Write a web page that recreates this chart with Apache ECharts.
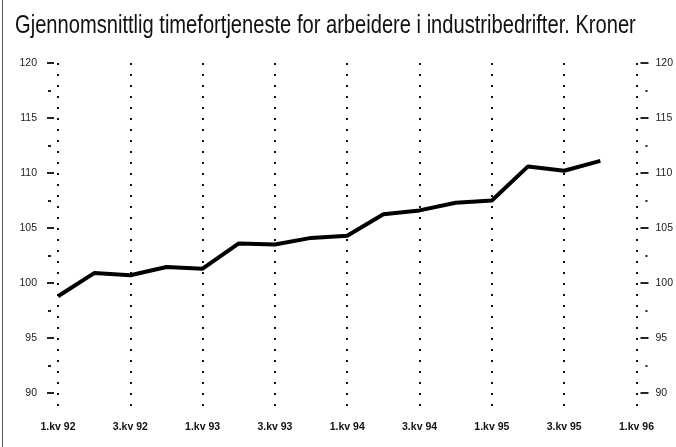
<!DOCTYPE html>
<html>
<head>
<meta charset="utf-8">
<script src="https://cdn.jsdelivr.net/npm/echarts@6/dist/echarts.min.js"></script>
<style>
html,body{margin:0;padding:0;background:#fff;}
#chart{width:676px;height:447px;}
</style>
</head>
<body>
<div id="chart"></div>
<script>
const titleText = 'Gjennomsnittlig timefortjeneste for arbeidere i industribedrifter. Kroner';
const categories = ['1.kv 92','2.kv 92','3.kv 92','4.kv 92','1.kv 93','2.kv 93','3.kv 93','4.kv 93','1.kv 94','2.kv 94','3.kv 94','4.kv 94','1.kv 95','2.kv 95','3.kv 95','4.kv 95','1.kv 96'];
const values = [98.8, 100.9, 100.7, 101.45, 101.3, 103.6, 103.5, 104.1, 104.3, 106.25, 106.6, 107.3, 107.5, 110.6, 110.2, 111.1];
const yMajorTicks = [90, 95, 100, 105, 110, 115, 120];
const yMinorTicks = [92.5, 97.5, 102.5, 107.5, 112.5, 117.5];
const yMin = 88, yMax = 120;

const sans = "'Liberation Sans', Arial, sans-serif";
const chart = echarts.init(document.getElementById('chart'));

function yAx(pos, offset, tickLen, ticks, showLabel, margin) {
  return {
    type: 'value', position: pos, offset: offset, min: yMin, max: yMax,
    axisLine: {show: false},
    splitLine: {show: false},
    axisTick: {show: true, length: tickLen, customValues: ticks, lineStyle: {color: '#222', width: 2}},
    axisLabel: showLabel ? {show: true, customValues: yMajorTicks, margin: margin, color: '#222', fontSize: 10.5, fontFamily: sans} : {show: false}
  };
}

chart.setOption({
  animation: false,
  backgroundColor: '#fff',
  graphic: [
    {type: 'line', shape: {x1: 2.5, y1: 0, x2: 2.5, y2: 447}, style: {stroke: '#555', lineWidth: 1}},
    {type: 'text', x: 15, y: 26.5, scaleX: 0.805,
     style: {text: titleText, fill: '#111', font: "normal 25px 'Liberation Sans', Arial, sans-serif", align: 'left', verticalAlign: 'middle'}}
  ],
  grid: {left: 58, right: 33, top: 63, bottom: 32},
  xAxis: {
    type: 'category', data: categories, boundaryGap: false,
    axisLine: {show: false}, axisTick: {show: false},
    axisLabel: {interval: 1, margin: 7, color: '#111', fontWeight: 'bold', fontSize: 10.5, fontFamily: sans},
    splitLine: {show: true, interval: 1, lineStyle: {color: '#111', width: 2, type: [2, 9]}}
  },
  yAxis: [
    yAx('left', 4, 7, yMajorTicks, true, 17),
    yAx('left', 7, 3, yMinorTicks, false, 0),
    yAx('right', 4, 8, yMajorTicks, true, 15),
    yAx('right', 9, 2, yMinorTicks, false, 0)
  ],
  series: [{
    type: 'line', data: values, yAxisIndex: 0, symbol: 'none',
    lineStyle: {color: '#000', width: 4}
  }]
});
</script>
</body>
</html>
